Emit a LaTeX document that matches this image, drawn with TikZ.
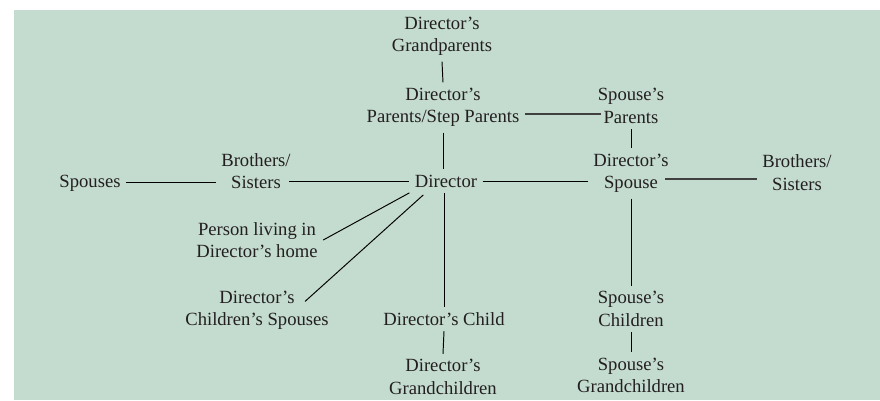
\documentclass[tikz,border=0pt]{standalone}
\usepackage{fontspec}
\setmainfont{Liberation Serif}
\usetikzlibrary{calc}
\definecolor{panelgreen}{RGB}{196,220,207}
\definecolor{inkgrey}{RGB}{35,31,32}

\begin{document}
\begin{tikzpicture}[x=0.02cm, y=-0.02cm,
every node/.style = {shape=rectangle, align=center, inner sep=3pt, text=inkgrey,
  font=\fontsize{10.6}{12.8}\selectfont},
relation/.style = {draw=black, line width=0.55pt},
strong relation/.style = {draw=black!75, line width=0.9pt}]
%
\useasboundingbox (0,0) rectangle (880,400);
\fill[panelgreen] (14,10) rectangle (880,400);
%
\node (grandparents) at (442,36.5) {Director's\\Grandparents};
\node (parents) at (443,107.5) {Director's\\Parents/Step Parents};
\node (spparents) at (631,106) {Spouse's\\Parents};
\node (director) at (446,181) {Director};
\node (spouse) at (631,173.5) {Director's\\Spouse};
\node (sibright) at (797,172.5) {Brothers/\\Sisters};
\node (sibleft) at (256,171) {Brothers/\\Sisters};
\node (sibspouses) at (90,183) {Spouses};
\node (lodger) at (257,240) {Person living in\\Director's home};
\node (childspouses) at (257,310.5) {Director's\\Children's Spouses};
\node (child) at (444,319) {Director's Child};
\node (grandchildren) at (443,377) {Director's\\Grandchildren};
\node (spchildren) at (631,309) {Spouse's\\Children};
\node (spgrandchildren) at (631,375.5) {Spouse's\\Grandchildren};
\coordinate (childspouses-tip) at ($(childspouses.north)+(48,16)$);
%
% main column
\draw[relation] (grandparents.south) -- (parents.north);
\draw[relation] (parents.south) -- (parents.south |- director.north);
\draw[relation] (child.north |- director.south) -- (child.north);
\draw[relation] (child.south) -- (grandchildren.north);
% spouse column
\draw[relation] (spparents.south) -- (spouse.north);
\draw[relation] (spouse.south) -- (spchildren.north);
\draw[relation] (spchildren.south) -- (spgrandchildren.north);
% across
\draw[strong relation] (parents.east |- 0,114) -- ($(spparents.west |- 0,114)+(9,0)$);
\draw[relation] (sibspouses.east |- 0,182) -- (sibleft.west |- 0,182);
\draw[relation] ($(sibleft.east |- director.west)+(-7,0)$) -- (director.west);
\draw[relation] (director.east) -- (director.east -| spouse.west);
\draw[strong relation] ($(spouse.east |- 0,179)+(-9,0)$) -- (sibright.west |- 0,179);
% diagonals
\draw[relation] (director.south west) -- (lodger.east);
\draw[relation] ($(director.south west)+(14,2)$) -- (childspouses-tip);
\end{tikzpicture}
\end{document}
